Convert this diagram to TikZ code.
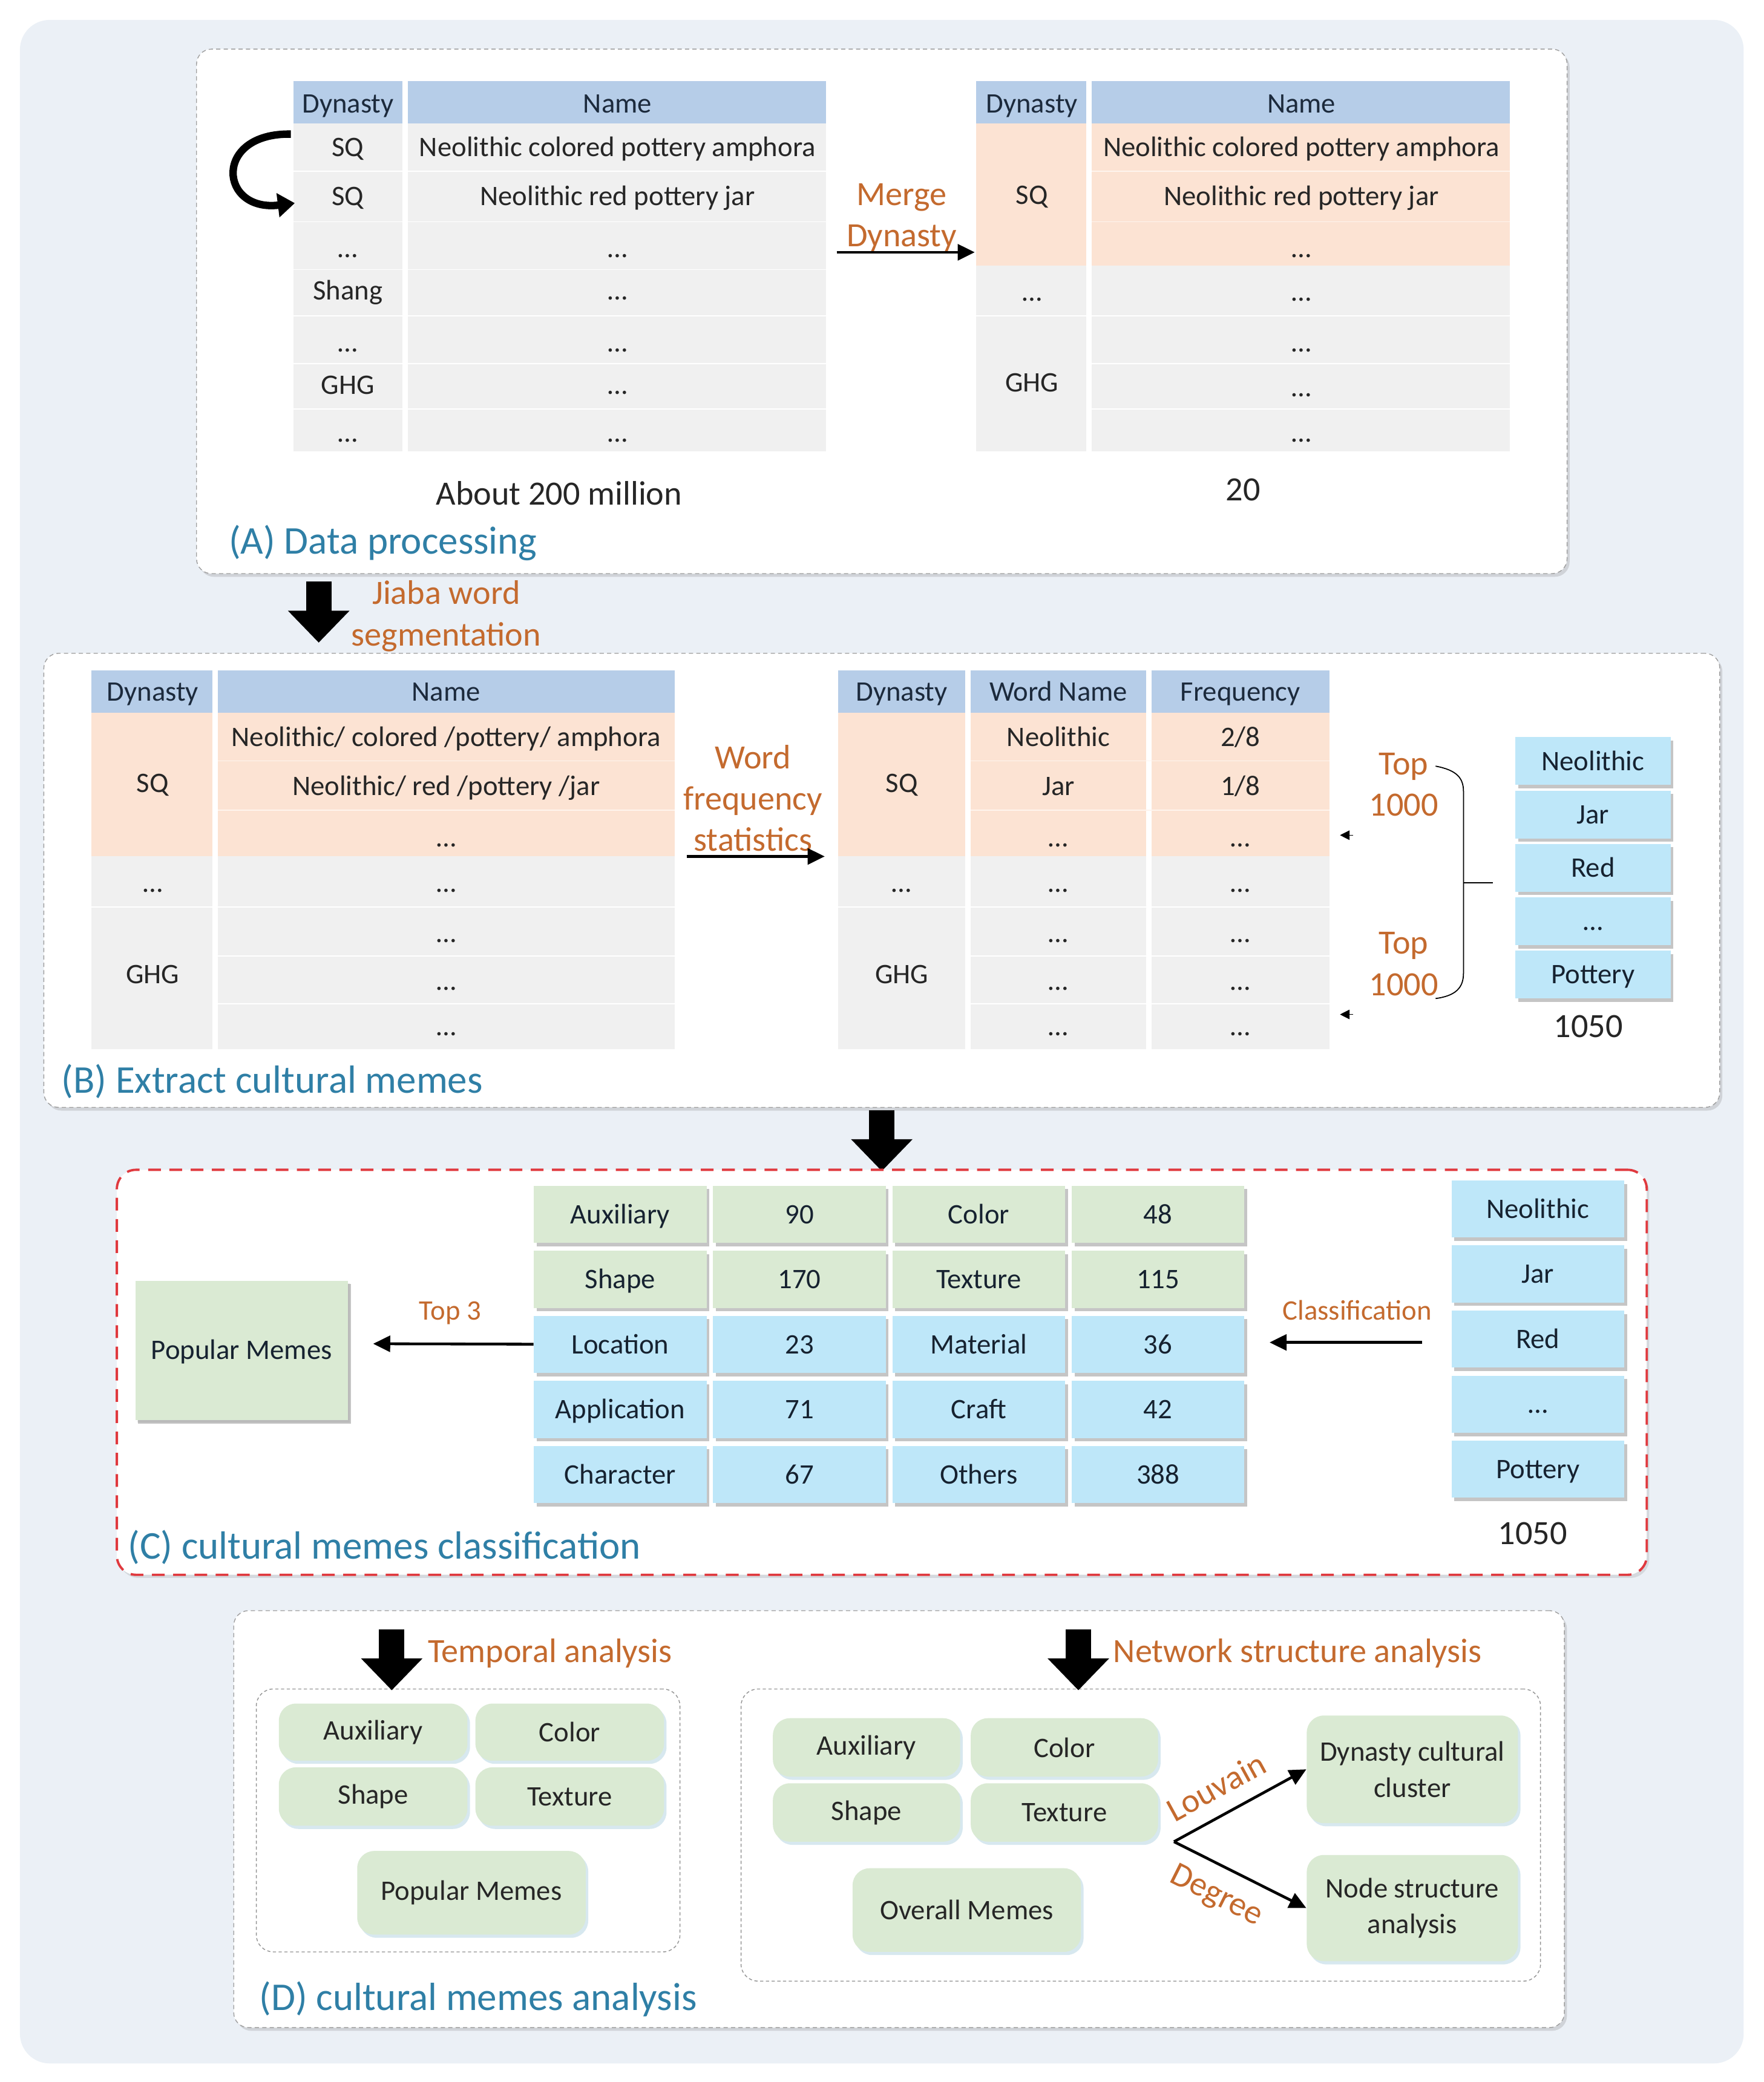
\documentclass[tikz,border=0pt]{standalone}
\usepackage{fontspec}
\setmainfont{Carlito}
\usetikzlibrary{positioning}
\usetikzlibrary{fit}
\usetikzlibrary{shadows}
\usetikzlibrary{arrows.meta}

\definecolor{bgblue}{HTML}{EBF0F6}
\definecolor{hdrblue}{HTML}{B6CDE8}
\definecolor{peach}{HTML}{FCE3D3}
\definecolor{cellgray}{HTML}{F0F0F0}
\definecolor{cgreen}{HTML}{DAEAD3}
\definecolor{cblue}{HTML}{BEE7F9}
\definecolor{orangetxt}{HTML}{C46A2E}
\definecolor{tealtxt}{HTML}{2F7FA6}
\definecolor{navy}{HTML}{1C2A3C}
\definecolor{txtgray}{HTML}{262626}
\definecolor{reddash}{HTML}{E0393E}

\begin{document}
\begin{tikzpicture}[x=0.02195cm,y=-0.02195cm]
\tikzset{
  txt/.style={font=\fontsize{13.3}{16}\selectfont, text=txtgray, inner sep=0pt, text height=8.6pt, text depth=0pt},
  hdr/.style={txt, text=navy},
  lbl/.style={font=\fontsize{16}{19.4}\selectfont, text=orangetxt, align=center, inner sep=0pt},
  lblsmall/.style={font=\fontsize{13.3}{16}\selectfont, text=orangetxt, inner sep=0pt, text height=8.6pt, text depth=0pt},
  ttl/.style={font=\fontsize{18.5}{22}\selectfont, text=tealtxt, anchor=base west, inner sep=0pt},
  big/.style={font=\fontsize{16}{19.4}\selectfont, text=txtgray, inner sep=0pt, text height=10.3pt, text depth=0pt},
  sz/.style 2 args={minimum width=#1*0.02195cm, minimum height=#2*0.02195cm},
  panel/.style={draw=gray!75, dash pattern=on 2pt off 1.5pt, fill=white, rounded corners=7pt, inner sep=0pt,
    drop shadow={shadow xshift=1.2pt, shadow yshift=-1.5pt, opacity=0.25, fill=gray}},
  inbox/.style={draw=gray!85, dash pattern=on 1.5pt off 1.2pt, rounded corners=8pt, inner sep=0pt},
  cell/.style={inner sep=0pt, font=\fontsize{13.3}{16}\selectfont, text=navy!80!black, text height=8.6pt, text depth=0pt,
    drop shadow={shadow xshift=1.3pt, shadow yshift=-1.6pt, opacity=0.45, fill=gray}},
  memebox/.style={fill=cgreen, rounded corners=8pt, inner sep=0pt, align=center, text=txtgray,
    font=\fontsize{13.3}{17}\selectfont,
    drop shadow={shadow xshift=1.2pt, shadow yshift=-1.5pt, opacity=0.5, fill=cblue!80!gray}},
  blockarrow/.style={line width=12pt, -{Triangle[length=15pt,width=28pt]}},
  flow/.style={line width=1.3pt, -{Triangle[length=8pt,width=7.5pt]}},
}
\useasboundingbox (0,0) rectangle (1328,1568);
\fill[bgblue, rounded corners=14pt] (15,15) rectangle (1313,1554);

% (A) data processing
\node[panel, fit={(148,37) (1180,432)}] (pA) {};
\fill[hdrblue] (221,61) rectangle (303,93);
\fill[hdrblue] (307,61) rectangle (622,93);
\fill[cellgray] (221,93) rectangle (303,340);
\fill[cellgray] (307,93) rectangle (622,340);
\foreach \y in {129,167,203,238,274,308}
  \draw[white, line width=0.5pt] (221,\y) -- (622,\y);
\node[hdr] (a1h1) at (262,78) {Dynasty};
\node[hdr] (a1h2) at (465,78) {Name};
\foreach \y/\dy/\nm [count=\i] in {111/SQ/Neolithic colored pottery amphora, 148/SQ/Neolithic red pottery jar,
    187/…/…, 219/Shang/…, 258/…/…, 290/GHG/…, 326/…/…} {
  \node[txt] (a1d\i) at (262,\y) {\dy};
  \node[txt] (a1n\i) at (465,\y) {\nm};
}
\coordinate (lpS) at (219,101);
\coordinate (lpE) at (222,153);
\draw[line width=3.5pt, -{Triangle[length=8pt,width=11pt]}] (lpS) .. controls (160,100) and (165,160) .. (lpE);

\fill[hdrblue] (735,61) rectangle (818,93);
\fill[hdrblue] (822,61) rectangle (1137,93);
\fill[peach] (735,93) rectangle (818,200);
\fill[peach] (822,93) rectangle (1137,200);
\fill[cellgray] (735,200) rectangle (818,340);
\fill[cellgray] (822,200) rectangle (1137,340);
\foreach \y in {129,167}
  \draw[white!60!peach, line width=0.5pt] (822,\y) -- (1137,\y);
\draw[white, line width=0.5pt] (735,238) -- (1137,238);
\foreach \y in {274,308}
  \draw[white, line width=0.5pt] (822,\y) -- (1137,\y);
\node[hdr] (a2h1) at (777,78) {Dynasty};
\node[hdr] (a2h2) at (980,78) {Name};
\node[txt] (a2d1) at (777,147) {SQ};
\node[txt] (a2d2) at (777,220) {…};
\node[txt] (a2d3) at (777,288) {GHG};
\foreach \y/\nm [count=\i] in {111/Neolithic colored pottery amphora, 148/Neolithic red pottery jar,
    187/…, 220/…, 258/…, 292/…, 326/…}
  \node[txt] (a2n\i) at (980,\y) {\nm};

\node[lbl] (merge) at (679,164) {Merge\\Dynasty};
\coordinate (mgS) at (630,190);
\coordinate (mgE) at (734,190);
\draw[flow] (mgS) -- (mgE);

\node[big] (cntA) at (421,372) {About 200 million};
\node[big] (cntB) at (936,369) {20};
\node[ttl] (tA) at (172,417) {(A) Data processing};

\coordinate (j1) at (240,438);
\coordinate (j2) at (240,484);
\draw[blockarrow] (j1) -- (j2);
\node[lbl] (jiaba) at (336,464) {Jiaba word\\segmentation};

% (B) extract cultural memes
\node[panel, fit={(33,492) (1295,834)}] (pB) {};
\fill[hdrblue] (69,505) rectangle (160,537);
\fill[hdrblue] (164,505) rectangle (508,537);
\fill[peach] (69,537) rectangle (160,645);
\fill[peach] (164,537) rectangle (508,645);
\fill[cellgray] (69,645) rectangle (160,790);
\fill[cellgray] (164,645) rectangle (508,790);
\foreach \y in {573,610}
  \draw[white!60!peach, line width=0.5pt] (164,\y) -- (508,\y);
\draw[white, line width=0.5pt] (69,683) -- (508,683);
\foreach \y in {720,756}
  \draw[white, line width=0.5pt] (164,\y) -- (508,\y);
\node[hdr] (b1h1) at (115,521) {Dynasty};
\node[hdr] (b1h2) at (336,521) {Name};
\node[txt] (b1d1) at (115,590) {SQ};
\node[txt] (b1d2) at (115,665) {…};
\node[txt] (b1d3) at (115,734) {GHG};
\node[txt] (b1n1) at (336,555) {Neolithic/ colored /pottery/ amphora};
\node[txt] (b1n2) at (336,592) {Neolithic/ red /pottery /jar};
\foreach \y [count=\i from 3] in {631,665,703,739,773}
  \node[txt] (b1n\i) at (336,\y) {…};

\node[lbl] (wfs) at (567,601) {Word\\frequency\\statistics};
\coordinate (wfS) at (517,645);
\coordinate (wfE) at (621,645);
\draw[flow] (wfS) -- (wfE);

\fill[hdrblue] (631,505) rectangle (727,537);
\fill[hdrblue] (731,505) rectangle (863,537);
\fill[hdrblue] (867,505) rectangle (1001,537);
\fill[peach] (631,537) rectangle (727,645);
\fill[peach] (731,537) rectangle (863,645);
\fill[peach] (867,537) rectangle (1001,645);
\fill[cellgray] (631,645) rectangle (727,790);
\fill[cellgray] (731,645) rectangle (863,790);
\fill[cellgray] (867,645) rectangle (1001,790);
\foreach \y in {573,610}
  \draw[white!60!peach, line width=0.5pt] (731,\y) -- (1001,\y);
\draw[white, line width=0.5pt] (631,683) -- (1001,683);
\foreach \y in {720,756}
  \draw[white, line width=0.5pt] (731,\y) -- (1001,\y);
\node[hdr] (b2h1) at (679,521) {Dynasty};
\node[hdr] (b2h2) at (797,521) {Word Name};
\node[hdr] (b2h3) at (934,521) {Frequency};
\node[txt] (b2d1) at (679,590) {SQ};
\node[txt] (b2d2) at (679,665) {…};
\node[txt] (b2d3) at (679,734) {GHG};
\foreach \y/\wn/\fq [count=\i] in {555/Neolithic/{2/8}, 592/Jar/{1/8}, 631/…/…, 665/…/…, 703/…/…, 739/…/…, 773/…/…} {
  \node[txt] (b2w\i) at (797,\y) {\wn};
  \node[txt] (b2f\i) at (934,\y) {\fq};
}

\coordinate (tk1S) at (1019,629);
\coordinate (tk1E) at (1009,629);
\coordinate (tk2S) at (1019,764);
\coordinate (tk2E) at (1009,764);
\draw[line width=0.3pt, -{Triangle[length=4.5pt,width=4.5pt]}] (tk1S) -- (tk1E);
\draw[line width=0.3pt, -{Triangle[length=4.5pt,width=4.5pt]}] (tk2S) -- (tk2E);
\node[lbl] (top1) at (1057,591) {Top\\1000};
\node[lbl] (top2) at (1057,726) {Top\\1000};
\draw[line width=0.5pt] (1081,577) .. controls (1097,580) and (1102,586) .. (1102,596) -- (1102,733)
  .. controls (1102,744) and (1096,750) .. (1081,752);
\coordinate (brM) at (1102,665);
\coordinate (brT) at (1124,665);
\draw[line width=0.5pt] (brM) -- (brT);

\foreach \w [count=\i] in {Neolithic, Jar, Red, …, Pottery} {
  \pgfmathsetmacro{\yc}{533+\i*40.2}
  \node[cell, fill=cblue, sz={117}{36}] (bl\i) at (1199.5,\yc) {\w};
}
\node[big] (n1050a) at (1196,773) {1050};
\node[ttl] (tB) at (46,823) {(B) Extract cultural memes};

\coordinate (k1) at (664,836);
\coordinate (k2) at (664,882);
\draw[blockarrow] (k1) -- (k2);

% (C) cultural memes classification
\node[fill=white, draw=reddash, line width=1.1pt, dash pattern=on 6pt off 4pt, rounded corners=9pt, inner sep=0pt,
  drop shadow={shadow xshift=1.2pt, shadow yshift=-1.5pt, opacity=0.2, fill=gray}, fit={(88,881) (1240,1186)}] (pC) {};
\foreach \rw/\na/\va/\nb/\vb/\fc in {1/Auxiliary/90/Color/48/cgreen, 2/Shape/170/Texture/115/cgreen,
    3/Location/23/Material/36/cblue, 4/Application/71/Craft/42/cblue, 5/Character/67/Others/388/cblue} {
  \pgfmathsetmacro{\yc}{865.5+\rw*49}
  \node[cell, fill=\fc, sz={130}{43}] (c\rw1) at (467,\yc) {\na};
  \node[cell, fill=\fc, sz={130}{43}] (c\rw2) at (602,\yc) {\va};
  \node[cell, fill=\fc, sz={130}{43}] (c\rw3) at (737,\yc) {\nb};
  \node[cell, fill=\fc, sz={130}{43}] (c\rw4) at (872,\yc) {\vb};
}
\node[cell, fill=cgreen, drop shadow={shadow xshift=1pt, shadow yshift=-1.2pt, opacity=0.15, fill=gray},
  sz={160}{105}] (pop) at (182,1017) {Popular Memes};
\node[lblsmall] (top3) at (339,987) {Top 3};
\coordinate (t3E) at (281,1012);
\draw[flow] (c31) -- (t3E);

\foreach \w [count=\i] in {Neolithic, Jar, Red, …, Pottery} {
  \pgfmathsetmacro{\yc}{861.5+\i*49}
  \node[cell, fill=cblue, sz={130}{43}] (cl\i) at (1158,\yc) {\w};
}
\node[lblsmall] (clsf) at (1022,987) {Classification};
\coordinate (clS) at (1071,1011);
\coordinate (clE) at (956,1011);
\draw[flow] (clS) -- (clE);
\node[big] (n1050b) at (1154,1155) {1050};
\node[ttl] (tC) at (96,1174) {(C) cultural memes classification};

% (D) cultural memes analysis
\node[panel, fit={(176,1213) (1178,1527)}] (pD) {};
\node[inbox, fit={(193,1272) (512,1470)}] (dL) {};
\node[inbox, fit={(558,1272) (1160,1492)}] (dR) {};
\coordinate (d1) at (295,1227);
\coordinate (d2) at (295,1273);
\draw[blockarrow] (d1) -- (d2);
\node[lbl, anchor=base west] (temp) at (322,1252) {Temporal analysis};
\coordinate (e1) at (812,1227);
\coordinate (e2) at (812,1273);
\draw[blockarrow] (e1) -- (e2);
\node[lbl, anchor=base west] (netw) at (838,1252) {Network structure analysis};

\node[memebox, sz={142}{43}] (lAux) at (281,1304.5) {Auxiliary};
\node[memebox, sz={142}{43}] (lCol) at (429,1304.5) {Color};
\node[memebox, sz={142}{44}] (lSha) at (281,1353) {Shape};
\node[memebox, sz={142}{44}] (lTex) at (429,1353) {Texture};
\node[memebox, sz={172}{63}] (lPop) at (355,1425.5) {Popular Memes};

\node[memebox, sz={141}{44}] (rAux) at (652.5,1316) {Auxiliary};
\node[memebox, sz={141}{44}] (rCol) at (801.5,1316) {Color};
\node[memebox, sz={141}{44}] (rSha) at (652.5,1365) {Shape};
\node[memebox, sz={141}{44}] (rTex) at (801.5,1365) {Texture};
\node[memebox, sz={172}{63}] (rAll) at (728,1438.5) {Overall Memes};
\node[memebox, sz={159}{81}] (dyn) at (1063.5,1332.5) {Dynasty cultural\\cluster};
\node[memebox, sz={159}{80}] (nod) at (1063.5,1437) {Node structure\\analysis};

\coordinate (fork) at (884,1387);
\draw[flow] (fork) -- node[pos=0.42, sloped, above=7pt, lbl] (louv) {Louvain} (dyn.west);
\draw[flow] (fork) -- node[pos=0.42, sloped, below=7pt, lbl] (degr) {Degree} (nod.west);

\node[ttl] (tD) at (195,1514) {(D) cultural memes analysis};
\end{tikzpicture}
\end{document}
